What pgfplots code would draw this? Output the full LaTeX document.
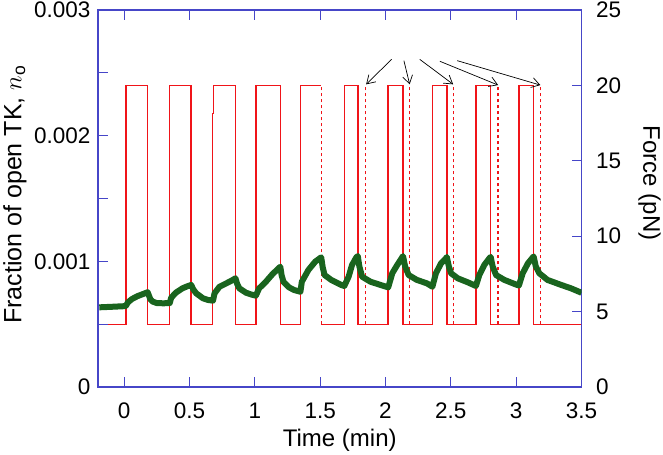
\documentclass[border=0pt]{standalone}
\usepackage{pgfplots}
\pgfplotsset{compat=1.18}
\usepackage{fontspec}
\setmainfont{Liberation Sans}
\usetikzlibrary{arrows.meta}
\definecolor{axblue}{RGB}{70,70,200}
\definecolor{fred}{RGB}{240,20,25}
\definecolor{dgreen}{RGB}{25,100,30}
\begin{document}
\fontsize{22bp}{26bp}\selectfont
\begin{tikzpicture}
\useasboundingbox (0,0) rectangle (663bp,455bp);
% ---------- force axis (right) ----------
\begin{axis}[
  at={(98bp,68bp)}, anchor=south west,
  scale only axis, width=483.5bp, height=377bp,
  xmin=-0.2, xmax=3.5, ymin=0, ymax=25,
  axis x line=none, axis y line*=right,
  ytick={0,5,10,15,20,25},
  tick align=inside, major tick length=10bp,
  every tick/.style={axblue, line width=1.1bp},
  y axis line style={axblue, line width=1.1bp},
  /pgf/number format/assume math mode=true,
  yticklabel style={xshift=7bp, font=\fontsize{22.5bp}{26bp}\selectfont},
  ylabel={Force (pN)},
  ylabel style={at={(axis description cs:1.1406,0.541)}, anchor=center, rotate=180, font=\fontsize{24bp}{28bp}\selectfont},
  clip=false,
]
\addplot[fred, line width=1.5bp] coordinates {
(-0.2,4.15) (0.013,4.15) (0.013,20) (0.18,20) (0.18,4.15) (0.349,4.15) (0.349,20) (0.513,20) (0.513,4.15)
(0.677,4.15) (0.677,18.15) (0.684,18.15) (0.684,20) (0.852,20) (0.852,4.15) (1.008,4.15) (1.008,20)
(1.195,20) (1.195,4.15) (1.349,4.15) (1.349,20) (1.508,20)
};
\addplot[fred, line width=1.5bp] coordinates {
(1.508,4.15) (1.685,4.15) (1.685,20) (1.788,20) (1.788,4.15) (2.021,4.15) (2.021,20) (2.134,20)
(2.134,4.15) (2.359,4.15) (2.359,20) (2.469,20) (2.469,4.15) (2.692,4.15)
(2.692,20) (2.805,20) (2.805,4.15) (3.021,4.15) (3.021,20) (3.134,20) (3.134,4.15) (3.5,4.15)
};
\addplot[color=fred, line width=1.3bp, dash pattern=on 3.5bp off 2.5bp] coordinates {(1.508,4.15) (1.508,20)};
\addplot[color=fred, line width=1.3bp, dash pattern=on 3.5bp off 2.5bp] coordinates {(1.846,4.15) (1.846,20)};
\addplot[color=fred, line width=1.3bp, dash pattern=on 3.5bp off 2.5bp] coordinates {(2.185,4.15) (2.185,20)};
\addplot[color=fred, line width=1.3bp, dash pattern=on 3.5bp off 2.5bp] coordinates {(2.518,4.15) (2.518,20)};
\addplot[color=fred, line width=1.3bp, dash pattern=on 3.5bp off 2.5bp] coordinates {(2.862,4.15) (2.862,20)};
\addplot[color=fred, line width=1.3bp, dash pattern=on 3.5bp off 2.5bp] coordinates {(3.185,4.15) (3.185,20)};
\draw[black, line width=0.7bp, -{Straight Barb[length=8bp,width=10bp]}] (axis cs:2.047,21.73) -- (axis cs:1.852,20.07);
\draw[black, line width=0.7bp, -{Straight Barb[length=8bp,width=10bp]}] (axis cs:2.141,21.64) -- (axis cs:2.185,20.07);
\draw[black, line width=0.7bp, -{Straight Barb[length=8bp,width=10bp]}] (axis cs:2.262,21.73) -- (axis cs:2.518,20.07);
\draw[black, line width=0.7bp, -{Straight Barb[length=8bp,width=10bp]}] (axis cs:2.416,21.60) -- (axis cs:2.862,20.02);
\draw[black, line width=0.7bp, -{Straight Barb[length=8bp,width=10bp]}] (axis cs:2.549,21.64) -- (axis cs:3.185,20.02);
\end{axis}
% ---------- fraction axis (left) ----------
\begin{axis}[
  at={(98bp,68bp)}, anchor=south west,
  scale only axis, width=483.5bp, height=377bp,
  xmin=-0.2, xmax=3.5, ymin=0, ymax=0.003,
  xtick={0,0.5,1,1.5,2,2.5,3,3.5},
  ytick={0,0.001,0.002,0.003},
  minor ytick={0.0005,0.0015,0.0025},
  xtick pos=both, ytick pos=left,
  tick align=inside, major tick length=10bp, minor tick length=10bp,
  every tick/.style={axblue, line width=1.1bp},
  axis line style={axblue, line width=1.1bp},
  scaled y ticks=false,
  /pgf/number format/assume math mode=true,
  yticklabel style={/pgf/number format/fixed, /pgf/number format/precision=3, font=\fontsize{22.5bp}{26bp}\selectfont},
  xticklabel style={yshift=-8bp, font=\fontsize{22.5bp}{26bp}\selectfont},
  xlabel={Time (min)},
  xlabel style={at={(axis description cs:0.5,-0.1406)}, anchor=center, font=\fontsize{24bp}{28bp}\selectfont},
  ylabel={Fraction of open TK, $n_\mathrm{o}$},
  ylabel style={at={(axis description cs:-0.1717,0.51)}, anchor=center, font=\fontsize{25bp}{29bp}\selectfont},
]
\addplot[dgreen, line width=6bp, line join=round] coordinates {
(-0.19,0.000634) (-0.1,0.000638) (0.0,0.000643) (0.013,0.000645)
(0.03,0.000675) (0.06,0.000700) (0.10,0.000722) (0.14,0.000738) (0.18,0.000754)
(0.20,0.000700) (0.22,0.000679) (0.25,0.000668) (0.30,0.000666) (0.349,0.000668)
(0.36,0.000710) (0.395,0.000750) (0.446,0.000785) (0.48,0.000800) (0.513,0.000812)
(0.53,0.000775) (0.551,0.000746) (0.603,0.000706) (0.64,0.000693) (0.68,0.000687)
(0.692,0.000746) (0.73,0.000798) (0.782,0.000825) (0.82,0.000845) (0.852,0.000865)
(0.865,0.000820) (0.882,0.000785) (0.933,0.000750) (0.97,0.000737) (1.008,0.000727)
(1.033,0.000785) (1.085,0.000838) (1.136,0.000899) (1.195,0.000957)
(1.205,0.000890) (1.22,0.000835) (1.262,0.000793) (1.30,0.000772) (1.349,0.000758)
(1.36,0.000838) (1.41,0.000931) (1.462,0.000997) (1.508,0.001032)
(1.52,0.000950) (1.534,0.000891) (1.585,0.000852) (1.662,0.000812) (1.685,0.000804)
(1.718,0.000878) (1.744,0.000971) (1.777,0.001032) (1.788,0.001042)
(1.80,0.000960) (1.821,0.000878) (1.885,0.000838) (1.962,0.000812) (2.021,0.000793)
(2.052,0.000905) (2.09,0.000971) (2.128,0.001032) (2.134,0.001042)
(2.15,0.000960) (2.177,0.000891) (2.24,0.000852) (2.317,0.000825) (2.359,0.000798)
(2.386,0.000905) (2.425,0.000984) (2.463,0.001024) (2.469,0.001035)
(2.485,0.000960) (2.502,0.000905) (2.553,0.000865) (2.63,0.000833) (2.692,0.000804)
(2.718,0.000891) (2.756,0.000971) (2.795,0.001024) (2.805,0.001035)
(2.82,0.000960) (2.846,0.000891) (2.91,0.000852) (3.0,0.000815) (3.021,0.000808)
(3.05,0.000905) (3.09,0.000984) (3.128,0.001032) (3.134,0.001038)
(3.15,0.000960) (3.177,0.000905) (3.24,0.000852) (3.345,0.000812) (3.42,0.000785) (3.5,0.000750)
};
\end{axis}
\end{tikzpicture}
\end{document}
